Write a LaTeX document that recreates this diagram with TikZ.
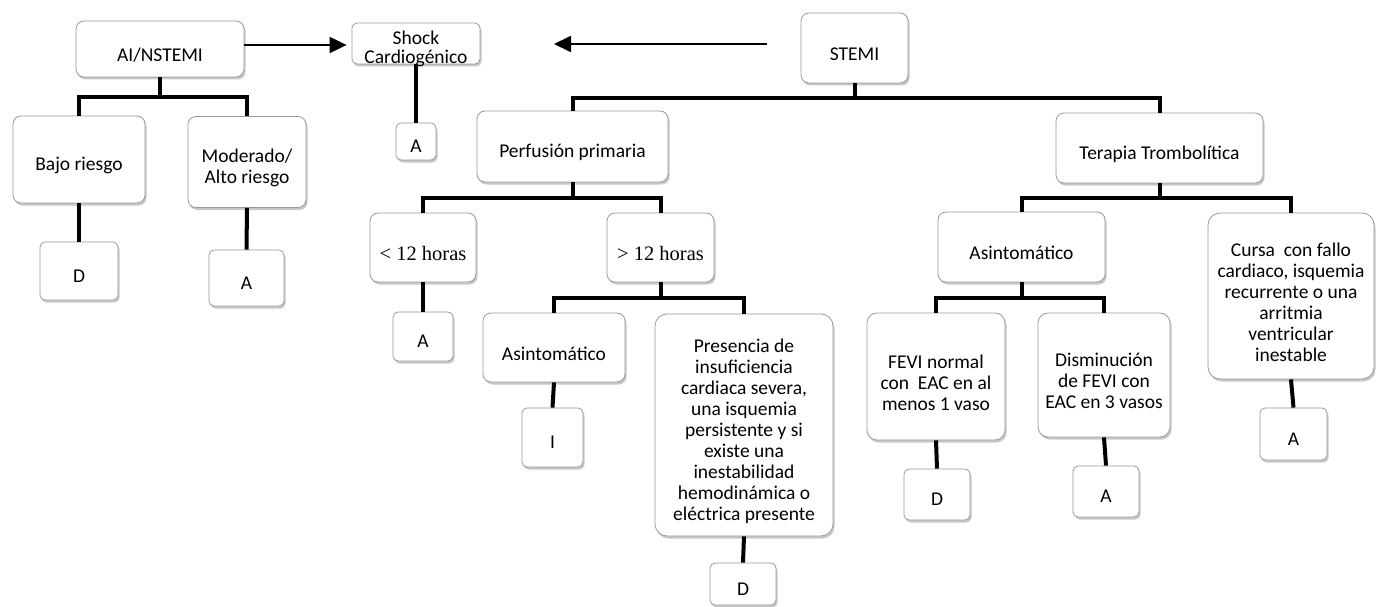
\documentclass[tikz,border=0pt]{standalone}
\usepackage{fontspec}
\setmainfont{Carlito}
\newfontfamily\serifx{Liberation Serif}
\usetikzlibrary{shadows,arrows.meta}
\newcommand\bx[5]{\node[#1, label={[#5]center:#4}] (#2) at (#3) {};}
\begin{document}
\begin{tikzpicture}[x=1pt,y=-1pt,
 box/.style={draw=black!40, line width=0.8pt, fill=white, rounded corners=8pt, inner sep=0pt,
   drop shadow={shadow xshift=1.5pt, shadow yshift=-2.5pt, fill=black!40, opacity=0.55}},
 small/.style={box, rounded corners=5pt},
 lbl/.style={align=center, inner sep=0pt, font=\fontsize{19.5}{21}\selectfont, yshift=-6pt},
 lbls/.style={lbl, yshift=1pt},
 conn/.style={line width=4pt, draw=black},
 arr/.style={line width=2pt, -{Triangle[length=17pt,width=16pt]}}]
\useasboundingbox (0,0) rectangle (1376,607);

% left tree
\bx{box, minimum width=168pt, minimum height=56pt}{ai}{160,49}{AI/NSTEMI}{lbl}
\bx{box, minimum width=132pt, minimum height=87pt}{bajo}{79,159.5}{Bajo riesgo}{lbl}
\bx{box, minimum width=118pt, minimum height=91pt}{mod}{247,162}{Moderado/\\Alto riesgo}{lbl}
\bx{small, minimum width=78pt, minimum height=58pt}{dB}{79,271}{D}{lbls}
\bx{small, minimum width=75pt, minimum height=56pt}{aM}{246.5,278}{A}{lbls}

% shock
\bx{small, minimum width=128pt, minimum height=41pt}{shock}{416,43.5}{Shock\\Cardiogénico}{lbl, font=\fontsize{19.5}{19}\selectfont, yshift=1pt}
\bx{small, minimum width=40pt, minimum height=37pt}{aS}{416,141.5}{A}{lbls}

% STEMI tree
\bx{box, minimum width=107pt, minimum height=70pt}{stemi}{854.5,48}{STEMI}{lbl}
\bx{box, minimum width=191pt, minimum height=71pt}{perf}{572.5,146.5}{Perfusión primaria}{lbl}
\bx{box, minimum width=207pt, minimum height=70pt}{ter}{1159.5,148}{Terapia Trombolítica}{lbl}
\bx{box, minimum width=106pt, minimum height=69pt}{lt}{423,247.5}{< 12 horas}{lbl, font=\serifx\fontsize{20.5}{21}\selectfont}
\bx{box, minimum width=107pt, minimum height=69pt}{gt}{660.5,247.5}{> 12 horas}{lbl, font=\serifx\fontsize{20.5}{21}\selectfont}
\bx{small, minimum width=60pt, minimum height=49pt}{aL}{423,336.5}{A}{lbls}
\bx{box, minimum width=142pt, minimum height=69pt}{as1}{554,347.5}{Asintomático}{lbl}
\bx{box, rounded corners=12pt, minimum width=178pt, minimum height=222pt}{pres}{744,425}{Presencia de\\insuficiencia\\cardiaca severa,\\una isquemia\\persistente y si\\existe una\\inestabilidad\\hemodinámica o\\eléctrica presente}{lbl}
\bx{small, minimum width=61pt, minimum height=59pt}{iB}{552.5,437.5}{I}{lbls}
\bx{small, minimum width=66pt, minimum height=42pt}{dP}{743,584}{D}{lbls}

\bx{box, minimum width=167pt, minimum height=70pt}{as2}{1021.5,247}{Asintomático}{lbl}
\bx{box, rounded corners=12pt, minimum width=166pt, minimum height=166pt}{cur}{1291,296}{Cursa\ \ con fallo\\cardiaco, isquemia\\recurrente o una\\arritmia\\ventricular\\inestable}{lbl}
\bx{box, rounded corners=10pt, minimum width=138pt, minimum height=127pt}{fevi}{936,376.5}{FEVI normal\\con\ \ EAC en al\\menos 1 vaso}{lbl}
\bx{box, rounded corners=10pt, minimum width=132pt, minimum height=124pt}{dism}{1104,375}{Disminución\\de FEVI con\\EAC en 3 vasos}{lbl}
\bx{small, minimum width=66pt, minimum height=51pt}{dF}{937,494.5}{D}{lbls}
\bx{small, minimum width=66pt, minimum height=51pt}{aD}{1106,491.5}{A}{lbls}
\bx{small, minimum width=67pt, minimum height=52pt}{aC}{1293.5,434}{A}{lbls}

% connectors
\draw[conn] (ai.south) -- ++(0,20) -| (bajo.north);
\draw[conn] (ai.south) ++(0,20) -| (mod.north);
\draw[conn] (bajo.south) -- (dB.north);
\draw[conn] (mod.south) -- (aM.north);
\draw[conn] (shock.south) -- (aS.north);

\draw[conn] (stemi.south) -- ++(0,15) -| (perf.north);
\draw[conn] (stemi.south) ++(0,15) -| (ter.north);
\draw[conn] (perf.south) -- ++(0,16) -| (lt.north);
\draw[conn] (perf.south) ++(0,16) -| (gt.north);
\draw[conn] (lt.south) -- (aL.north);
\draw[conn] (gt.south) -- ++(0,16) -| (as1.north);
\draw[conn] (gt.south) ++(0,16) -| (pres.north);
\draw[conn] (as1.south) -- (iB.north);
\draw[conn] (pres.south) -- (dP.north);

\draw[conn] (ter.south) -- ++(0,15) -| (as2.north);
\draw[conn] (ter.south) ++(0,15) -| (cur.north);
\draw[conn] (as2.south) -- ++(0,16) -| (fevi.north);
\draw[conn] (as2.south) ++(0,16) -| (dism.north);
\draw[conn] (fevi.south) -- (dF.north);
\draw[conn] (dism.south) -- (aD.north);
\draw[conn] (cur.south) -- (aC.north);

% arrows
\draw[arr, shorten >=5pt] ([yshift=4pt]ai.east) -- ([yshift=4pt]ai.east -| shock.west);
\coordinate (st) at (767,44);
\coordinate (en) at (554,44);
\draw[arr] (st) -- (en);
\end{tikzpicture}
\end{document}
